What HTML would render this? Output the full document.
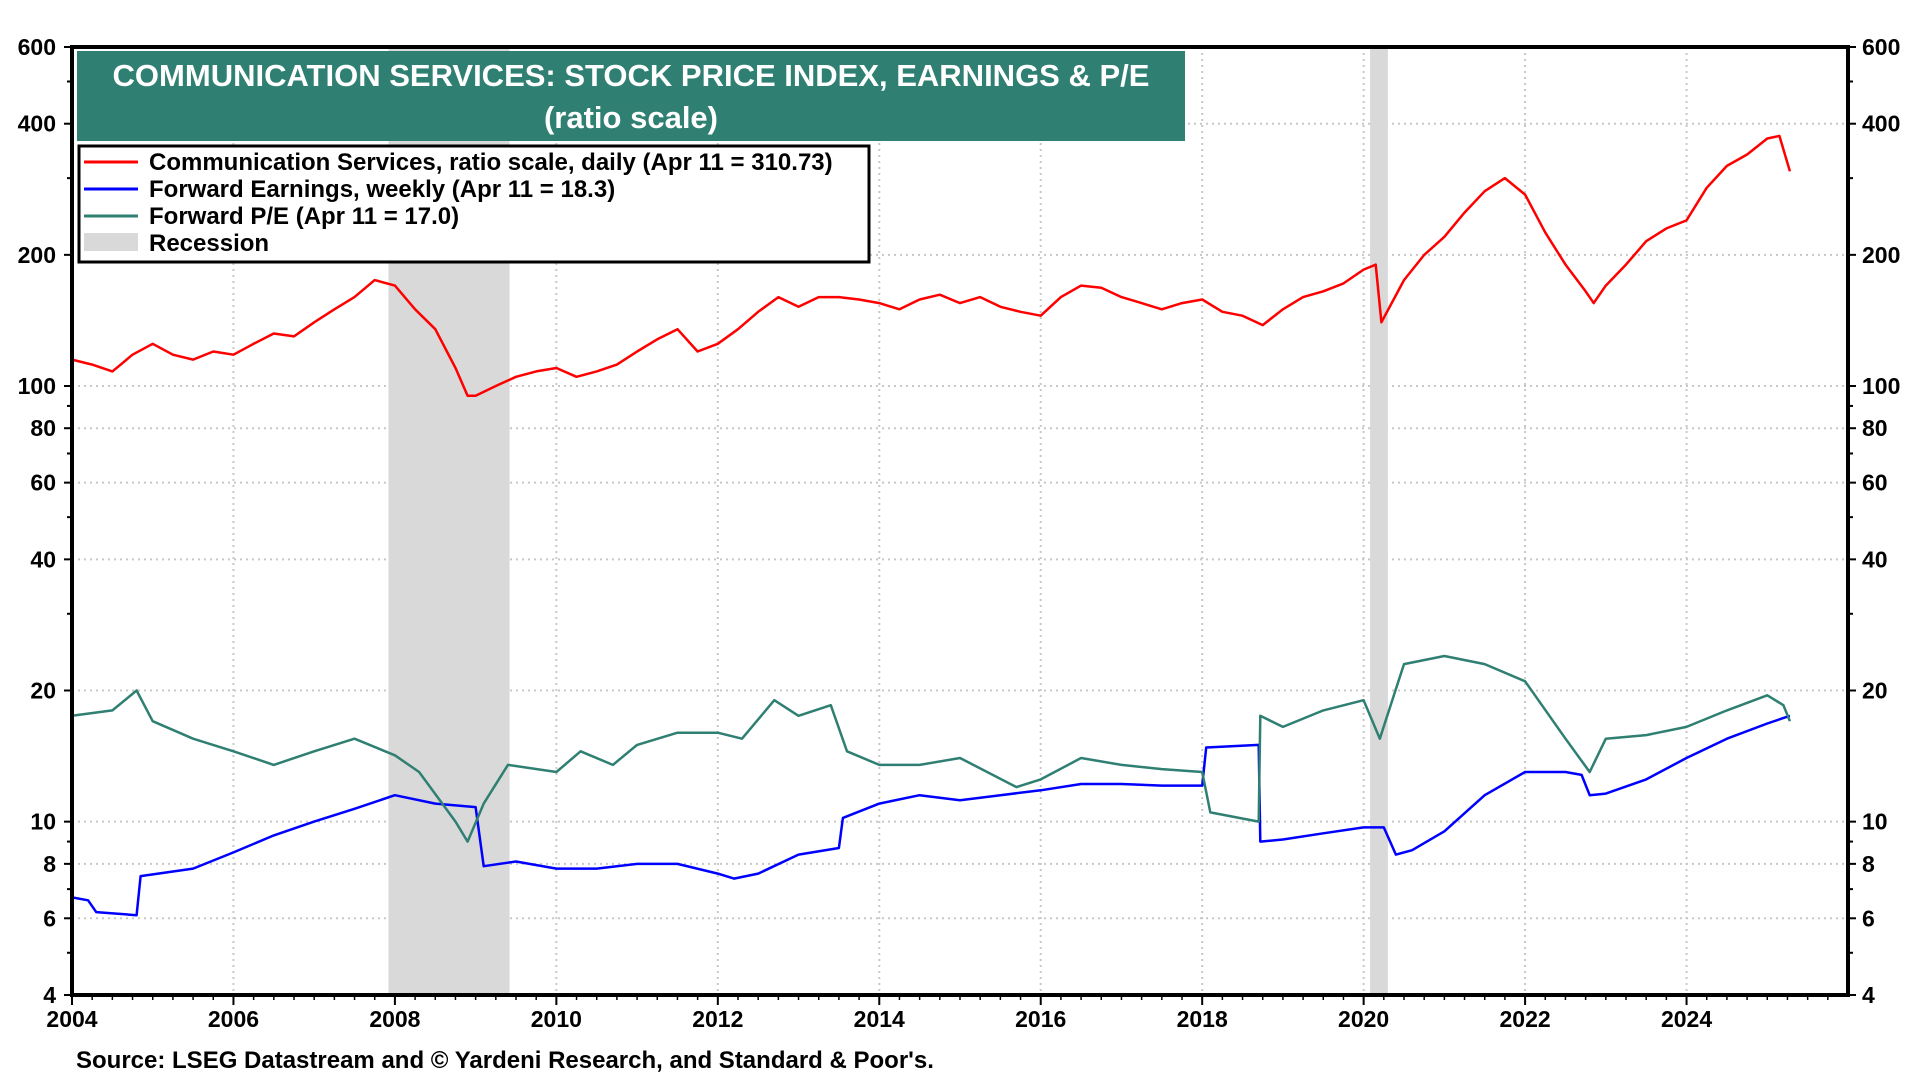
<!DOCTYPE html>
<html><head><meta charset="utf-8"><style>
html,body{margin:0;padding:0;background:#fff;}
svg{display:block;font-family:"Liberation Sans",Arial,sans-serif;font-weight:bold;}
</style></head><body>
<svg id="chart" width="1920" height="1080" viewBox="0 0 1920 1080" xmlns="http://www.w3.org/2000/svg">
<g id="grid"></g>
<g id="recessions"></g>
<g id="series"></g>
<g id="axes"></g>
<g>
<rect x="77" y="51" width="1108" height="90" fill="#2f7f72"/>
<text x="631" y="86" fill="#fff" font-size="31" text-anchor="middle">COMMUNICATION SERVICES: STOCK PRICE INDEX, EARNINGS &amp; P/E</text>
<text x="631" y="128" fill="#fff" font-size="31" text-anchor="middle">(ratio scale)</text>
</g>
<g>
<rect x="79" y="146" width="790" height="116" fill="#fff" stroke="#000" stroke-width="3"/>
<line x1="84" y1="162" x2="138" y2="162" stroke="#ff0000" stroke-width="3"/>
<text x="149" y="170" font-size="24">Communication Services, ratio scale, daily (Apr 11 = 310.73)</text>
<line x1="84" y1="189" x2="138" y2="189" stroke="#0000ff" stroke-width="3"/>
<text x="149" y="197" font-size="24">Forward Earnings, weekly (Apr 11 = 18.3)</text>
<line x1="84" y1="216" x2="138" y2="216" stroke="#2f7f72" stroke-width="3"/>
<text x="149" y="224" font-size="24">Forward P/E (Apr 11 = 17.0)</text>
<rect x="84" y="233" width="54" height="18" fill="#d9d9d9"/>
<text x="149" y="251" font-size="24">Recession</text>
</g>
<text x="76" y="1068" font-size="24">Source: LSEG Datastream and © Yardeni Research, and Standard &amp; Poor's.</text>
</svg>
<script>
const priceYears=[2004,2004.25,2004.5,2004.75,2005,2005.25,2005.5,2005.75,2006,2006.25,2006.5,2006.75,2007,2007.25,2007.5,2007.75,2008,2008.25,2008.5,2008.75,2008.9,2009,2009.25,2009.5,2009.75,2010,2010.25,2010.5,2010.75,2011,2011.25,2011.5,2011.75,2012,2012.25,2012.5,2012.75,2013,2013.25,2013.5,2013.75,2014,2014.25,2014.5,2014.75,2015,2015.25,2015.5,2015.75,2016,2016.25,2016.5,2016.75,2017,2017.25,2017.5,2017.75,2018,2018.25,2018.5,2018.75,2019,2019.25,2019.5,2019.75,2020,2020.15,2020.22,2020.5,2020.75,2021,2021.25,2021.5,2021.75,2022,2022.25,2022.5,2022.75,2022.85,2023,2023.25,2023.5,2023.75,2024,2024.25,2024.5,2024.75,2025,2025.15,2025.28];
const priceValues=[115,112,108,118,125,118,115,120,118,125,132,130,140,150,160,175,170,150,135,110,95,95,100,105,108,110,105,108,112,120,128,135,120,125,135,148,160,152,160,160,158,155,150,158,162,155,160,152,148,145,160,170,168,160,155,150,155,158,148,145,138,150,160,165,172,185,190,140,175,200,220,250,280,300,275,225,190,165,155,170,190,215,230,240,285,320,340,370,375,311];
const earnYears=[2004,2004.2,2004.3,2004.8,2004.85,2005.5,2006,2006.5,2007,2007.5,2008,2008.5,2009,2009.1,2009.5,2010,2010.5,2011,2011.5,2012,2012.2,2012.5,2013,2013.5,2013.55,2014,2014.5,2015,2015.5,2016,2016.5,2017,2017.5,2018,2018.05,2018.7,2018.72,2019,2019.5,2020,2020.25,2020.4,2020.6,2021,2021.5,2022,2022.5,2022.7,2022.8,2023,2023.5,2024,2024.5,2025,2025.28];
const earnValues=[6.7,6.6,6.2,6.1,7.5,7.8,8.5,9.3,10,10.7,11.5,11,10.8,7.9,8.1,7.8,7.8,8,8,7.6,7.4,7.6,8.4,8.7,10.2,11,11.5,11.2,11.5,11.8,12.2,12.2,12.1,12.1,14.8,15,9,9.1,9.4,9.7,9.7,8.4,8.6,9.5,11.5,13,13,12.8,11.5,11.6,12.5,14,15.5,16.8,17.5];
const peYears=[2004,2004.5,2004.8,2005,2005.5,2006,2006.5,2007,2007.5,2008,2008.3,2008.75,2008.9,2009.1,2009.4,2010,2010.3,2010.7,2011,2011.5,2012,2012.3,2012.7,2013,2013.4,2013.6,2014,2014.5,2015,2015.7,2016,2016.5,2017,2017.5,2018,2018.1,2018.7,2018.72,2019,2019.5,2020,2020.2,2020.5,2021,2021.5,2022,2022.5,2022.8,2023,2023.5,2024,2024.5,2025,2025.2,2025.28];
const peValues=[17.5,18,20,17,15.5,14.5,13.5,14.5,15.5,14.2,13,10,9,11,13.5,13,14.5,13.5,15,16,16,15.5,19,17.5,18.5,14.5,13.5,13.5,14,12,12.5,14,13.5,13.2,13,10.5,10,17.5,16.5,18,19,15.5,23,24,23,21,15.5,13,15.5,15.8,16.5,18,19.5,18.5,17];
const yTicks=[600,400,200,100,80,60,40,20,10,8,6,4];
const xTicks=[2004,2006,2008,2010,2012,2014,2016,2018,2020,2022,2024];
const recessionStarts=[2007.92,2020.08];
const recessionEnds=[2009.42,2020.3];

const NS="http://www.w3.org/2000/svg";
const L=72,R=1848,T=47,B=995,X0=2004,X1=2026;
const LMIN=Math.log10(4),LMAX=Math.log10(600);
const xs=v=>L+(v-X0)/(X1-X0)*(R-L);
const ys=v=>B-(Math.log10(v)-LMIN)/(LMAX-LMIN)*(B-T);
function mk(tag,attrs,parent){const e=document.createElementNS(NS,tag);for(const k in attrs)e.setAttribute(k,attrs[k]);parent.appendChild(e);return e;}
const grid=document.getElementById('grid'),axes=document.getElementById('axes'),rec=document.getElementById('recessions'),ser=document.getElementById('series');
recessionStarts.forEach((s,i)=>{const r=mk('rect',{x:xs(s),y:T,width:xs(recessionEnds[i])-xs(s),height:B-T,fill:'#d9d9d9'},rec);

});
yTicks.forEach(v=>{const y=ys(v);
const g=mk('line',{x1:L,x2:R,y1:y,y2:y,stroke:'#c8c8c8','stroke-width':2,'stroke-dasharray':'2,4'},grid);


const t1=mk('text',{x:L-16,y:y+8,'font-size':23,'text-anchor':'end'},axes);t1.textContent=v;


const t2=mk('text',{x:R+14,y:y+8,'font-size':23,'text-anchor':'start'},axes);t2.textContent=v;


mk('line',{x1:L-8,x2:L,y1:y,y2:y,stroke:'#000','stroke-width':2},axes);
mk('line',{x1:R,x2:R+8,y1:y,y2:y,stroke:'#000','stroke-width':2},axes);});
[5,7,9,30,50,70,90,300,500].forEach(v=>{const y=ys(v);mk('line',{x1:L-5,x2:L,y1:y,y2:y,stroke:'#000','stroke-width':2},axes);mk('line',{x1:R,x2:R+5,y1:y,y2:y,stroke:'#000','stroke-width':2},axes);});
xTicks.forEach(v=>{const x=xs(v);
const g=mk('line',{x1:x,x2:x,y1:T,y2:B,stroke:'#c8c8c8','stroke-width':2,'stroke-dasharray':'2,4'},grid);


const t=mk('text',{x:x,y:B+32,'font-size':23,'text-anchor':'middle'},axes);t.textContent=v;


mk('line',{x1:x,x2:x,y1:B,y2:B+10,stroke:'#000','stroke-width':2},axes);});
for(let q=X0;q<X1;q+=0.25){const x=xs(q);mk('line',{x1:x,x2:x,y1:B,y2:B+5,stroke:'#000','stroke-width':1.5},axes);}
function line(xa,va,color,name){const d=xa.map((x,i)=>(i?'L':'M')+xs(x).toFixed(1)+','+ys(va[i]).toFixed(1)).join('');
const p=mk('path',{d:d,fill:'none',stroke:color,'stroke-width':2.5,'stroke-linejoin':'round'},ser);

}
line(earnYears,earnValues,'#0000ff','earnings-line');
line(peYears,peValues,'#2f7f72','pe-line');
line(priceYears,priceValues,'#ff0000','price-line');
const fr=mk('rect',{x:L,y:T,width:R-L,height:B-T,fill:'none',stroke:'#000','stroke-width':4},axes);


</script>
</body></html>
